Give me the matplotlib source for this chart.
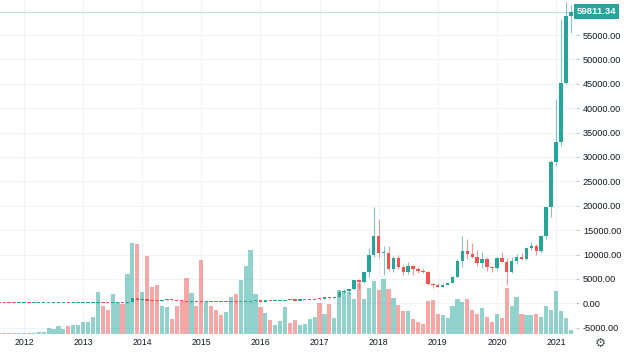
import numpy as np
import pandas as pd
import matplotlib
matplotlib.use('Agg')
import matplotlib.pyplot as plt
from matplotlib.transforms import blended_transform_factory

# monthly BTCUSD candles, Aug 2011 .. Apr 2021
months = pd.period_range('2011-08', '2021-04', freq='M')

opens = [13.35, 8.2, 5.1, 3.25, 2.97,
         4.72, 5.48, 4.86, 4.9, 4.97, 5.15, 6.7, 9.35, 10.1, 12.4, 11.2, 12.6,
         13.5, 20.4, 33.4, 93, 139, 129, 97, 106, 135, 133, 204, 1129,
         732, 800, 550, 457, 447, 627, 640, 585, 480, 387, 338, 378,
         320, 217, 253, 244, 236, 230, 263, 284, 230, 236, 311, 377,
         430, 368, 436, 416, 448, 530, 673, 624, 573, 609, 700, 742,
         966, 965, 1190, 1079, 1348, 2303, 2480, 2875, 4735, 4340, 6450, 9950,
         13800, 10250, 10330, 6930, 9240, 7500, 6400, 7730, 7030, 6630, 6370, 4040,
         3740, 3440, 3820, 4100, 5320, 8570, 10800, 10090, 9590, 8290, 9150, 7540,
         7170, 9350, 8550, 6410, 8630, 9450, 9140, 11340, 11650, 10780, 13800, 19700,
         28980, 33110, 45150, 58800]
highs = [13.4, 8.9, 5.3, 3.5, 4.8,
         7.2, 6.3, 5.4, 5.3, 5.2, 6.8, 9.4, 16.0, 12.5, 12.9, 12.8, 14.0,
         20.4, 33.5, 93.5, 266, 140, 129, 111, 135, 143, 210, 1163, 1163,
         1000, 800, 700, 540, 630, 680, 660, 600, 500, 410, 460, 380,
         320, 270, 300, 262, 250, 268, 315, 285, 246, 334, 495, 465,
         462, 445, 440, 468, 550, 770, 700, 625, 630, 720, 755, 970,
         1160, 1210, 1300, 1415, 2790, 3000, 2930, 4780, 5000, 6470, 11400, 19666,
         17200, 11780, 11700, 9760, 10000, 7750, 8500, 7760, 7410, 7000, 6600, 4230,
         4080, 4200, 4130, 5610, 9060, 13800, 13200, 12330, 10950, 10500, 9500, 7740,
         9580, 10500, 9190, 9460, 10070, 10400, 11450, 12470, 12070, 14100, 19800, 29300,
         41950, 58350, 61780, 61200]
lows = [7.5, 4.5, 2.2, 2.0, 2.85,
        4.6, 4.3, 4.6, 4.8, 4.9, 5.1, 6.5, 7.0, 10.0, 10.0, 10.4, 12.1,
        13.2, 19.3, 33.2, 50, 79, 88, 65, 101, 117, 107, 200, 380,
        730, 400, 440, 340, 420, 535, 565, 450, 365, 275, 310, 300,
        150, 210, 237, 210, 225, 215, 253, 162, 225, 235, 297, 350,
        352, 365, 400, 412, 434, 500, 585, 470, 566, 605, 690, 740,
        750, 930, 890, 1055, 1340, 2100, 1830, 2670, 2950, 4100, 5400, 9400,
        9200, 5900, 6550, 6430, 7050, 5750, 6080, 5880, 6120, 6210, 3650, 3150,
        3400, 3380, 3690, 4080, 5320, 7440, 9100, 9330, 7700, 7300, 6520, 6430,
        6860, 8450, 3850, 6150, 8100, 8900, 8970, 10980, 9880, 10400, 13200, 17600,
        28130, 32300, 44950, 55500]
closes = [8.2, 5.1, 3.25, 2.97, 4.72,
          5.48, 4.86, 4.9, 4.97, 5.15, 6.7, 9.35, 10.1, 12.4, 11.2, 12.6, 13.5,
          20.4, 33.4, 93, 139, 129, 97, 106, 135, 133, 204, 1129, 732,
          800, 550, 457, 447, 627, 640, 585, 480, 387, 338, 378, 320,
          217, 253, 244, 236, 230, 263, 284, 230, 236, 311, 377, 430,
          368, 436, 416, 448, 530, 673, 624, 573, 609, 700, 742, 966,
          965, 1190, 1079, 1348, 2303, 2480, 2875, 4735, 4340, 6450, 9950, 13800,
          10250, 10330, 6930, 9240, 7500, 6400, 7730, 7030, 6630, 6370, 4040, 3740,
          3440, 3820, 4100, 5320, 8570, 10800, 10090, 9590, 8290, 9150, 7540, 7170,
          9350, 8550, 6410, 8630, 9450, 9140, 11340, 11650, 10780, 13800, 19700, 28980,
          33110, 45150, 58800, 59811.34]
# volume (arbitrary units)
volume = [1.5, 1.5, 1.5, 1, 1,
          1.5, 1.5, 1.5, 2.5, 2.5, 6, 5, 8, 5.5, 8, 9, 9,
          12.5, 12.5, 17, 42, 28, 24, 40, 32, 30, 60, 91, 90,
          42, 78, 46.6, 49, 28, 27, 14.7, 28, 33, 56, 41, 28,
          74, 32, 28, 24, 19, 22, 37, 40, 54, 68, 84, 40,
          27.5, 21, 14.5, 9.5, 13, 27, 11, 14, 9, 10, 15, 17,
          31, 20, 30.5, 16, 44, 43.5, 42, 35.5, 51, 35.5, 46, 53,
          44, 55, 45, 36, 29, 23.5, 23.5, 15.5, 12, 10.5, 33, 34,
          20, 19, 16, 28, 35, 32, 35, 24, 20, 26, 17, 12,
          20, 15.7, 45.6, 28, 37, 20, 19, 19, 20, 17, 27.7, 24,
          43, 23, 15.7, 4]
last_price = 59811.34
price_ticks = list(range(-5000, 60000, 5000))

up = '#26a69a'
down = '#ef5350'
txt = '#131722'

df = pd.DataFrame({'open': opens, 'high': highs, 'low': lows, 'close': closes,
                   'volume': volume}, index=months)
# x = month number, 0 = Jan 2012
x = np.array([(p.year - 2012) * 12 + p.month - 1 for p in df.index])
rising = df['close'] >= df['open']
col = np.where(rising, up, down)

plt.rcParams['font.family'] = ['Liberation Sans', 'DejaVu Sans']

fig = plt.figure(figsize=(6.24, 3.53), dpi=100)
ax = fig.add_axes([0, 19 / 353, 576 / 624, 334 / 353])
axv = ax.twinx()
ax.set_zorder(axv.get_zorder() + 1)
ax.patch.set_visible(False)

# volume underneath
vcol = np.where(rising, up + '80', down + '80')
axv.bar(x, df['volume'], width=0.85, color=vcol, linewidth=0)
axv.set_ylim(0, 334)
axv.axis('off')

# candles
ax.vlines(x, df['low'], df['high'], colors=[c + '99' for c in col], linewidth=0.8)
body_low = np.minimum(df['open'], df['close'])
body_h = np.maximum(np.abs(df['close'] - df['open']), 220)
ax.bar(x, body_h, bottom=body_low, width=0.7, color=col, linewidth=0)

# last price line
ax.axhline(last_price, color=up, lw=0.8, alpha=0.3)

ax.set_xlim(-4.87, 112.06)
ax.set_ylim(-6294, 62178)

years = [m for m in x if m % 12 == 0]
ax.set_xticks(years)
ax.set_xticklabels([str(2012 + m // 12) for m in years])
ax.set_yticks(price_ticks)
ax.set_yticklabels(['%.2f' % v for v in price_ticks])
ax.yaxis.tick_right()
ax.tick_params(axis='y', length=2.5, width=0.6, color='#b2b5be', pad=2.5,
               labelsize=6.6, labelcolor=txt)
ax.tick_params(axis='x', length=0, pad=3, labelsize=6.3, labelcolor=txt)
ax.grid(True, color='#f0f3fa', lw=0.8)
ax.set_axisbelow(True)
axv.set_zorder(0)
for s in ax.spines.values():
    s.set_visible(False)

# grid must sit under the volume: draw it on the volume axes instead
ax.grid(False)
gx = fig.add_axes(ax.get_position(), zorder=-1)
gx.set_xlim(ax.get_xlim())
gx.set_ylim(ax.get_ylim())
for m in years:
    gx.axvline(m, color='#f0f3fa', lw=0.8)
for v in price_ticks:
    gx.axhline(v, color='#f0f3fa', lw=0.8)
gx.axis('off')

# price label on the scale
tr = blended_transform_factory(ax.transAxes, ax.transData)
ax.text(1.0015, last_price, '59811.34', transform=tr, ha='left', va='center',
        fontsize=6.8, color='white', fontweight='bold',
        bbox=dict(boxstyle='square,pad=0.28', fc=up, ec='none'), clip_on=False)

fig.text(600 / 624, 1 - 343 / 353, '\u2699', fontsize=9, color='#50535e',
         ha='center', va='center', family='DejaVu Sans')

fig.savefig('out.png', dpi=100)
